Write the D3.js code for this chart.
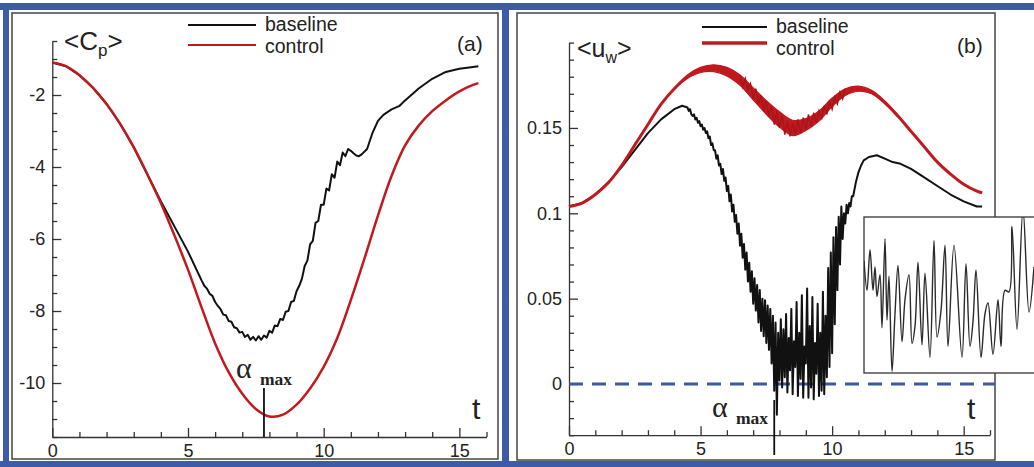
<!DOCTYPE html>
<html><head><meta charset="utf-8">
<script src="https://cdn.jsdelivr.net/npm/d3@7"></script>
<style>
html,body{margin:0;padding:0;background:#fff;}
svg{display:block;}
text{font-family:"Liberation Sans",Arial,Helvetica,sans-serif;fill:#222;}
.serif{font-family:"Liberation Serif","Times New Roman",serif;}
</style></head><body>
<svg id="chart" width="1034" height="467"></svg>
<script>
// ---------- (a) mean pressure coefficient <Cp> ----------
const cpControlT = [0,0.5,1,1.5,2,2.5,3,3.5,4,4.5,5,5.5,6,6.5,7,7.5,8,8.5,9,9.5,10,10.5,11,11.5,12,12.5,13,13.5,14,14.5,15,15.5,15.7];
const cpControl  = [-1.1,-1.2,-1.45,-1.8,-2.25,-2.8,-3.45,-4.2,-5.0,-5.9,-6.85,-7.9,-8.9,-9.7,-10.3,-10.72,-10.93,-10.88,-10.6,-10.15,-9.55,-8.75,-7.7,-6.55,-5.35,-4.25,-3.4,-2.85,-2.45,-2.15,-1.9,-1.72,-1.67];

const cpBaseT = [0,0.5,1,1.5,2,2.5,3,3.5,4,4.5,5,5.5,
  5.6,5.7,5.8,5.9,6.0,6.1,6.2,6.3,6.4,6.5,6.6,6.7,6.8,6.9,7.0,7.1,7.2,7.3,7.4,7.5,7.6,7.7,7.8,7.9,
  8.0,8.1,8.2,8.3,8.4,8.5,8.6,8.7,8.8,8.9,9.0,9.1,9.2,9.3,9.4,9.5,9.6,9.7,9.8,9.9,
  10.0,10.1,10.2,10.3,10.4,10.5,10.6,10.7,10.8,10.9,11.0,11.1,11.2,11.3,11.4,
  11.6,11.8,12.0,12.2,12.5,12.8,13.0,13.5,14.0,14.5,15.0,15.5,15.7];
const cpBase = [-1.1,-1.2,-1.45,-1.8,-2.25,-2.8,-3.45,-4.2,-4.95,-5.65,-6.35,-7.15,
  -7.3,-7.38,-7.52,-7.58,-7.75,-7.86,-7.95,-8.1,-8.12,-8.28,-8.3,-8.45,-8.48,-8.6,-8.58,-8.72,-8.66,-8.8,-8.72,-8.82,-8.7,-8.8,-8.68,-8.74,
  -8.55,-8.6,-8.4,-8.42,-8.22,-8.25,-8.02,-8.0,-7.75,-7.72,-7.45,-7.3,-7.1,-6.75,-6.6,-6.15,-6.05,-5.55,-5.5,-5.05,
  -5.05,-4.6,-4.65,-4.2,-4.3,-3.85,-3.95,-3.6,-3.7,-3.5,-3.55,-3.62,-3.68,-3.7,-3.65,
  -3.5,-3.05,-2.72,-2.55,-2.4,-2.3,-2.15,-1.82,-1.55,-1.36,-1.27,-1.22,-1.2];

// ---------- (b) wall velocity <u_w> ----------
const uwControlT = [0,0.5,1,1.5,2,2.5,3,3.5,4,4.5,5,5.5,6,6.5,7,7.5,8,8.5,9,9.5,10,10.5,11,11.5,12,12.5,13,13.5,14,14.5,15,15.5,15.7];
const uwControl  = [0.104,0.106,0.111,0.118,0.128,0.140,0.152,0.164,0.173,0.180,0.184,0.185,0.183,0.178,0.170,0.162,0.155,0.150,0.152,0.157,0.165,0.171,0.173,0.171,0.165,0.157,0.148,0.139,0.130,0.123,0.117,0.113,0.112];
// half-width of the high-frequency fluctuation band of the controlled case
const uwControlSpread = [0,0,0,0,0,0,0,0,0,0.001,0.0015,0.002,0.0025,0.003,0.0035,0.004,0.0045,0.0045,0.0035,0.003,0.0025,0.002,0.0015,0.001,0.0008,0.0004,0,0,0,0,0,0,0];
// sampled fluctuation of the controlled case around the dip, t = 6.5 ... 10.5 every 0.1
const uwControlFuzzStart = 6.5, uwControlFuzzStep = 0.1;
const uwControlFuzz = [0.181,0.174,0.179,0.172,0.176,0.167,0.173,0.164,0.169,0.160,
  0.166,0.157,0.163,0.152,0.160,0.150,0.157,0.146,0.154,0.145,
  0.153,0.146,0.155,0.147,0.156,0.149,0.158,0.151,0.159,0.153,
  0.160,0.155,0.163,0.158,0.166,0.161,0.168,0.164,0.171,0.167,0.173];

const uwBaseRiseT = [0,0.5,1,1.5,2,2.5,3,3.5,4,4.3];
const uwBaseRise  = [0.104,0.106,0.111,0.118,0.127,0.137,0.147,0.155,0.161,0.163];
// densely sampled stall segment, t = 4.5 ... 10.8 every 0.05
const uwBaseNoisyStart = 4.5, uwBaseNoisyStep = 0.05;
const uwBaseNoisy = [
  0.162,0.160,0.161,0.158,0.157,0.158,0.155,0.156,0.153,0.154,
  0.151,0.152,0.149,0.150,0.147,0.148,0.144,0.145,0.140,0.141,
  0.137,0.137,0.132,0.134,0.128,0.129,0.123,0.126,0.119,0.121,
  0.113,0.116,0.107,0.111,0.101,0.105,0.095,0.099,0.088,0.094,
  0.081,0.088,0.074,0.082,0.067,0.077,0.060,0.071,0.054,0.066,
  0.047,0.062,0.043,0.058,0.036,0.055,0.031,0.050,0.028,0.049,
  0.024,0.046,0.020,0.044,0.012,0.040,-0.004,0.036,-0.018,0.030,
  0.002,0.038,-0.002,0.032,0.004,0.041,-0.005,0.027,0.008,0.044,
  -0.006,0.025,0.010,0.048,-0.007,0.030,0.003,0.052,-0.008,0.022,
  0.012,0.056,-0.008,0.034,-0.002,0.051,-0.009,0.024,0.006,0.047,
  -0.007,0.030,-0.004,0.054,-0.006,0.040,0.004,0.068,0.010,0.077,
  0.018,0.086,0.035,0.092,0.055,0.098,0.070,0.104,0.085,0.100,
  0.094,0.105,0.100,0.106,0.104,0.110,0.110];
const uwBaseRecoverT = [10.9,11.0,11.1,11.2,11.4,11.7,12.0,12.3,12.6,13.0,13.5,14.0,14.5,15.0,15.5,15.7];
const uwBaseRecover  = [0.118,0.124,0.128,0.131,0.133,0.134,0.132,0.130,0.129,0.126,0.121,0.116,0.111,0.107,0.104,0.104];

// inset: close-up of the baseline signal in the stalled phase (arbitrary units)
const insetT = [0,3,6,9,11,13,16,18,21,23,25,28,31,34,38,41,45,48,51,54,58,61,66,70,73,77,81,84,90,98,102,106,109,112,117,121,124,129,134,137,141,145,148,153,159,165,170];
const insetU = [0.72,0.53,0.79,0.53,0.68,0.49,0.63,0.29,0.86,0.34,0.62,0.01,0.38,0.69,0.20,0.47,0.63,0.19,0.30,0.71,0.18,0.64,0.10,0.85,0.23,0.40,0.82,0.17,0.82,0.10,0.70,0.17,0.33,0.66,0.10,0.38,0.45,0.12,0.47,0.17,0.53,0.52,0.94,0.28,1.05,0.39,0.68];

const xTicksMajor = [0,5,10,15];
const xTicksMinor = [1,2,3,4,6,7,8,9,11,12,13,14,16];
const cpTicksMajor = [-10,-8,-6,-4,-2];
const uwTicksMajor = [0,0.05,0.1,0.15];
const alphaMaxT = 7.8;

// ---------- drawing ----------
const RED = "#c01a1f", BLK = "#111", BLUE = "#3e5ba8";
const svg = d3.select("#chart");
svg.append("rect").attr("width",1034).attr("height",467).attr("fill","#fff");

// outer blue frame
[[0,3,1034,7],[3,3,6,464],[0,461,1034,6],[502,3,7,464]].forEach(r=>{
  svg.append("rect").attr("x",r[0]).attr("y",r[1]).attr("width",r[2]).attr("height",r[3]).attr("fill",BLUE);
});
// panel frames
svg.append("rect").attr("x",12).attr("y",13).attr("width",486).attr("height",446)
  .attr("fill","#fff").attr("stroke","#444").attr("stroke-width",1.5);
svg.append("rect").attr("x",517).attr("y",13).attr("width",478).attr("height",447)
  .attr("fill","#fff").attr("stroke","#444").attr("stroke-width",1.5);

function range(a,b,s){const out=[];for(let v=a;v<=b+1e-9;v+=s)out.push(+v.toFixed(4));return out;}

function axes(g, x, y, yMajor, yMinor, fmt){
  const xb = y.range()[0];
  const styleAxis = sel => {
    sel.selectAll("path,line").attr("stroke","#333").attr("stroke-width",1.3);
    sel.selectAll("text").attr("font-size",18).attr("fill","#333")
      .attr("font-family","'Liberation Sans',Arial,sans-serif");
  };
  g.append("g").attr("transform",`translate(0,${xb})`)
    .call(d3.axisBottom(x).tickValues(xTicksMinor).tickSize(-5).tickSizeOuter(0).tickFormat(""))
    .call(s=>s.select(".domain").remove()).call(styleAxis);
  g.append("g").attr("transform",`translate(0,${xb})`)
    .call(d3.axisBottom(x).tickValues(xTicksMajor).tickSize(-9).tickSizeOuter(0).tickPadding(7).tickFormat(d=>String(d)))
    .call(styleAxis);
  const x0 = x.range()[0];
  g.append("g").attr("transform",`translate(${x0},0)`)
    .call(d3.axisLeft(y).tickValues(yMinor).tickSize(-5).tickSizeOuter(0).tickFormat(""))
    .call(s=>s.select(".domain").remove()).call(styleAxis);
  g.append("g").attr("transform",`translate(${x0},0)`)
    .call(d3.axisLeft(y).tickValues(yMajor).tickSize(-9).tickSizeOuter(0).tickPadding(7).tickFormat(fmt))
    .call(styleAxis);
}

// ----- panel (a)
const gA = svg.append("g");
const xA = d3.scaleLinear().domain([0,16]).range([52.3,486.5]);
const yA = d3.scaleLinear().domain([-11.5,-0.5]).range([437,41]);
axes(gA, xA, yA, cpTicksMajor, range(-11.5,-0.5,0.5).filter(v=>!cpTicksMajor.includes(v)), d=>String(d));

const lineA = d3.line().x(d=>xA(d[0])).y(d=>yA(d[1]));
gA.append("path").datum(d3.zip(cpBaseT,cpBase)).attr("d",lineA)
  .attr("fill","none").attr("stroke",BLK).attr("stroke-width",2).attr("stroke-linejoin","round");
gA.append("path").datum(d3.zip(cpControlT,cpControl))
  .attr("d",d3.line().x(d=>xA(d[0])).y(d=>yA(d[1])).curve(d3.curveCatmullRom))
  .attr("fill","none").attr("stroke",RED).attr("stroke-width",2.5);

// alpha_max marker (a)
gA.append("line").attr("x1",xA(alphaMaxT)).attr("x2",xA(alphaMaxT)).attr("y1",388).attr("y2",yA.range()[0])
  .attr("stroke","#111").attr("stroke-width",1.8);
gA.append("text").attr("class","serif").attr("x",236).attr("y",378).attr("font-size",30).text("α");
gA.append("text").attr("class","serif").attr("x",260).attr("y",385).attr("font-size",17.5).attr("font-weight","bold").text("max");

// labels (a)
gA.append("text").attr("x",64).attr("y",50).attr("font-size",26)
  .html('&lt;C<tspan font-size="17" dy="6">p</tspan><tspan dy="-6">&gt;</tspan>');
gA.append("text").attr("x",457).attr("y",51).attr("font-size",21).text("(a)");
gA.append("text").attr("x",472).attr("y",419).attr("font-size",30).text("t");
gA.append("line").attr("x1",188).attr("x2",256).attr("y1",25).attr("y2",25).attr("stroke",BLK).attr("stroke-width",2);
gA.append("line").attr("x1",188).attr("x2",256).attr("y1",45).attr("y2",45).attr("stroke",RED).attr("stroke-width",2);
gA.append("text").attr("x",265).attr("y",31).attr("font-size",19.5).text("baseline");
gA.append("text").attr("x",265).attr("y",53).attr("font-size",19.5).text("control");

// ----- panel (b)
const gB = svg.append("g");
const xB = d3.scaleLinear().domain([0,16]).range([569,990]);
const yB = d3.scaleLinear().domain([-0.03,0.2]).range([435.2,42.6]);
axes(gB, xB, yB, uwTicksMajor, range(-0.03,0.2,0.01).filter(v=>!uwTicksMajor.some(m=>Math.abs(m-v)<1e-6)), d3.format("~g"));

// zero reference
gB.append("line").attr("x1",xB(0)).attr("x2",995).attr("y1",yB(0)).attr("y2",yB(0))
  .attr("stroke","#3d5a9e").attr("stroke-width",3).attr("stroke-dasharray","14,9");

const lineB = d3.line().x(d=>xB(d[0])).y(d=>yB(d[1]));
const basePts = d3.zip(uwBaseRiseT,uwBaseRise)
  .concat(uwBaseNoisy.map((v,i)=>[uwBaseNoisyStart+i*uwBaseNoisyStep,v]))
  .concat(d3.zip(uwBaseRecoverT,uwBaseRecover));
gB.append("path").datum(basePts).attr("d",lineB)
  .attr("fill","none").attr("stroke",BLK).attr("stroke-width",2).attr("stroke-linejoin","round");

const ctrl = d3.zip(uwControlT,uwControl,uwControlSpread);
gB.append("path").datum(ctrl)
  .attr("d",d3.area().x(d=>xB(d[0])).y0(d=>yB(d[1]-d[2])).y1(d=>yB(d[1]+d[2])).curve(d3.curveCatmullRom))
  .attr("fill",RED).attr("stroke",RED).attr("stroke-width",1.2);
gB.append("path").datum(ctrl).attr("d",d3.line().x(d=>xB(d[0])).y(d=>yB(d[1])).curve(d3.curveCatmullRom))
  .attr("fill","none").attr("stroke",RED).attr("stroke-width",3);
gB.append("path").datum(uwControlFuzz.map((v,i)=>[uwControlFuzzStart+i*uwControlFuzzStep,v])).attr("d",lineB)
  .attr("fill","none").attr("stroke","#a8141a").attr("stroke-width",1.4);

// alpha_max marker (b)
gB.append("line").attr("x1",xB(alphaMaxT)).attr("x2",xB(alphaMaxT)).attr("y1",400).attr("y2",455)
  .attr("stroke","#111").attr("stroke-width",1.8);
gB.append("text").attr("class","serif").attr("x",712).attr("y",417).attr("font-size",30).text("α");
gB.append("text").attr("class","serif").attr("x",736).attr("y",424).attr("font-size",17.5).attr("font-weight","bold").text("max");

// labels (b)
gB.append("text").attr("x",577).attr("y",57).attr("font-size",25)
  .html('&lt;u<tspan font-size="16" dy="6">w</tspan><tspan dy="-6">&gt;</tspan>');
gB.append("text").attr("x",957).attr("y",53).attr("font-size",21).text("(b)");
gB.append("text").attr("x",967).attr("y",419).attr("font-size",30).text("t");
gB.append("line").attr("x1",702).attr("x2",767).attr("y1",27).attr("y2",27).attr("stroke",BLK).attr("stroke-width",2);
gB.append("line").attr("x1",702).attr("x2",767).attr("y1",43).attr("y2",43).attr("stroke",RED).attr("stroke-width",3.5);
gB.append("text").attr("x",776).attr("y",33).attr("font-size",19.5).text("baseline");
gB.append("text").attr("x",776).attr("y",55).attr("font-size",19.5).text("control");

// ----- inset
const insetBox = {x:864, y:217, w:200, h:156};
const gI = svg.append("g");
gI.append("clipPath").attr("id","insetClip").append("rect")
  .attr("x",insetBox.x).attr("y",insetBox.y).attr("width",insetBox.w).attr("height",insetBox.h);
gI.append("rect").attr("x",insetBox.x).attr("y",insetBox.y).attr("width",insetBox.w).attr("height",insetBox.h)
  .attr("fill","#fff").attr("stroke","#444").attr("stroke-width",1.4);
const xI = d3.scaleLinear().domain([0,170]).range([insetBox.x, 1034]);
const yI = d3.scaleLinear().domain([0,1]).range([insetBox.y+insetBox.h, insetBox.y]);
gI.append("path").datum(d3.zip(insetT,insetU)).attr("clip-path","url(#insetClip)")
  .attr("d",d3.line().x(d=>xI(d[0])).y(d=>yI(d[1])).curve(d3.curveCatmullRom))
  .attr("fill","none").attr("stroke","#2a2a2a").attr("stroke-width",1.4);
</script>
</body></html>
